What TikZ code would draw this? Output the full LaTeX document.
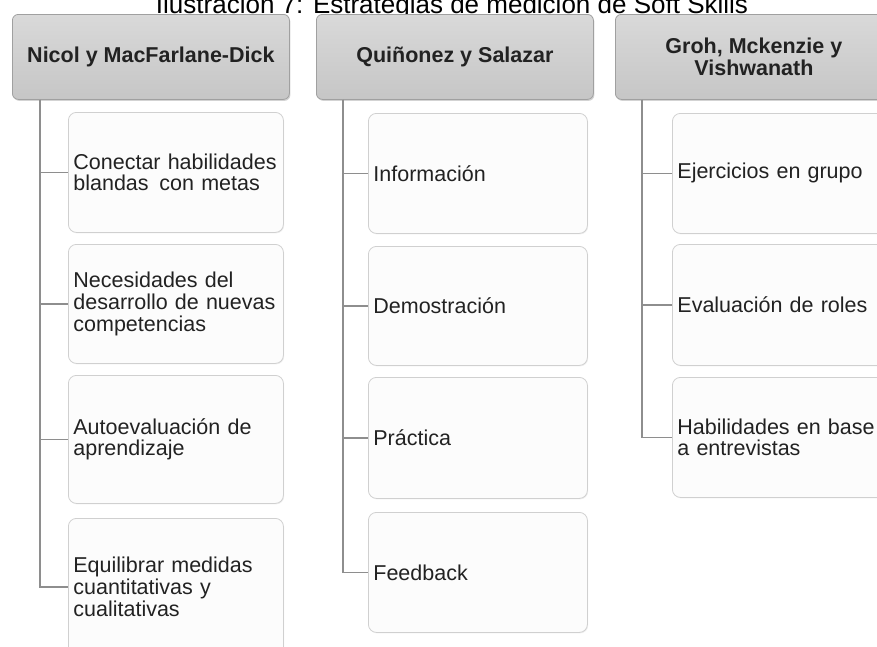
\documentclass[tikz,border=0pt]{standalone}
\usepackage{fontspec}
\setmainfont{Liberation Sans}
\usetikzlibrary{shadows}
\definecolor{hdrtop}{HTML}{D9D9D9}
\definecolor{hdrbot}{HTML}{C6C6C6}
\definecolor{hdrline}{HTML}{A0A0A0}
\definecolor{boxfill}{HTML}{FCFCFC}
\definecolor{boxline}{HTML}{D0D0D0}
\definecolor{connc}{HTML}{8E8E8E}
\definecolor{txt}{HTML}{222222}
\begin{document}
\begin{tikzpicture}[x=1pt,y=-1pt,
  hdr/.style={draw=hdrline, line width=0.8pt, rounded corners=6pt,
    top color=hdrtop, bottom color=hdrbot, anchor=north west,
    minimum width=277pt, minimum height=85pt, inner sep=0pt,
    font=\fontsize{21.5}{22}\selectfont\bfseries, text=txt, align=center,
    drop shadow={opacity=0.35, shadow xshift=1pt, shadow yshift=-1.5pt}},
  item/.style={draw=boxline, line width=0.8pt, fill=boxfill, rounded corners=8pt,
    anchor=north west, align=left, inner xsep=5pt, inner ysep=0pt,
    font=\fontsize{21.5}{21.7}\selectfont, text=txt,
    drop shadow={opacity=0.12, shadow xshift=0.8pt, shadow yshift=-1pt}},
  colA/.style={item, text width=205pt},
  colB/.style={item, text width=209pt},
  connline/.style={draw=connc, line width=1.6pt}
]
\useasboundingbox (0,0) rectangle (877,646);
\clip (0,0) rectangle (877,646);

\node[font=\fontsize{26}{28}\selectfont, anchor=base, text=black] (title) at (452,13)
  {Ilustración 7: Estrategias de medición de Soft Skills};

% headers
\node[hdr] (h1) at (12,14) {Nicol y MacFarlane-Dick};
\node[hdr] (h2) at (316,14) {Quiñonez y Salazar};
\node[hdr] (h3) at (615,14) {Groh, Mckenzie y\\Vishwanath};

% column 1
\node[colA, minimum height=120pt] (a1) at (68,112) {Conectar habilidades\\blandas\, con metas};
\node[colA, minimum height=119pt] (a2) at (68,244) {Necesidades del\\desarrollo de nuevas\\competencias};
\node[colA, minimum height=128pt] (a3) at (68,375) {Autoevaluación de\\aprendizaje};
\node[colA, minimum height=137pt] (a4) at (68,518) {Equilibrar medidas\\cuantitativas y\\cualitativas};

% column 2
\node[colB, minimum height=120pt] (b1) at (368,113) {Información};
\node[colB, minimum height=119pt] (b2) at (368,246) {Demostración};
\node[colB, minimum height=121pt] (b3) at (368,377) {Práctica};
\node[colB, minimum height=120pt] (b4) at (368,512) {Feedback};

% column 3
\node[colB, minimum height=120pt] (c1) at (672,113) {Ejercicios en grupo};
\node[colB, minimum height=121pt] (c2) at (672,244) {Evaluación de roles};
\node[colB, minimum height=120pt] (c3) at (672,377) {Habilidades en base\\a entrevistas};

% connectors
\foreach \n in {a1,a2,a3,a4}
  \draw[connline] ([xshift=28pt]h1.south west) |- (\n.west);
\foreach \n in {b1,b2,b3,b4}
  \draw[connline] ([xshift=27pt]h2.south west) |- (\n.west);
\foreach \n in {c1,c2,c3}
  \draw[connline] ([xshift=27pt]h3.south west) |- (\n.west);
\end{tikzpicture}
\end{document}
